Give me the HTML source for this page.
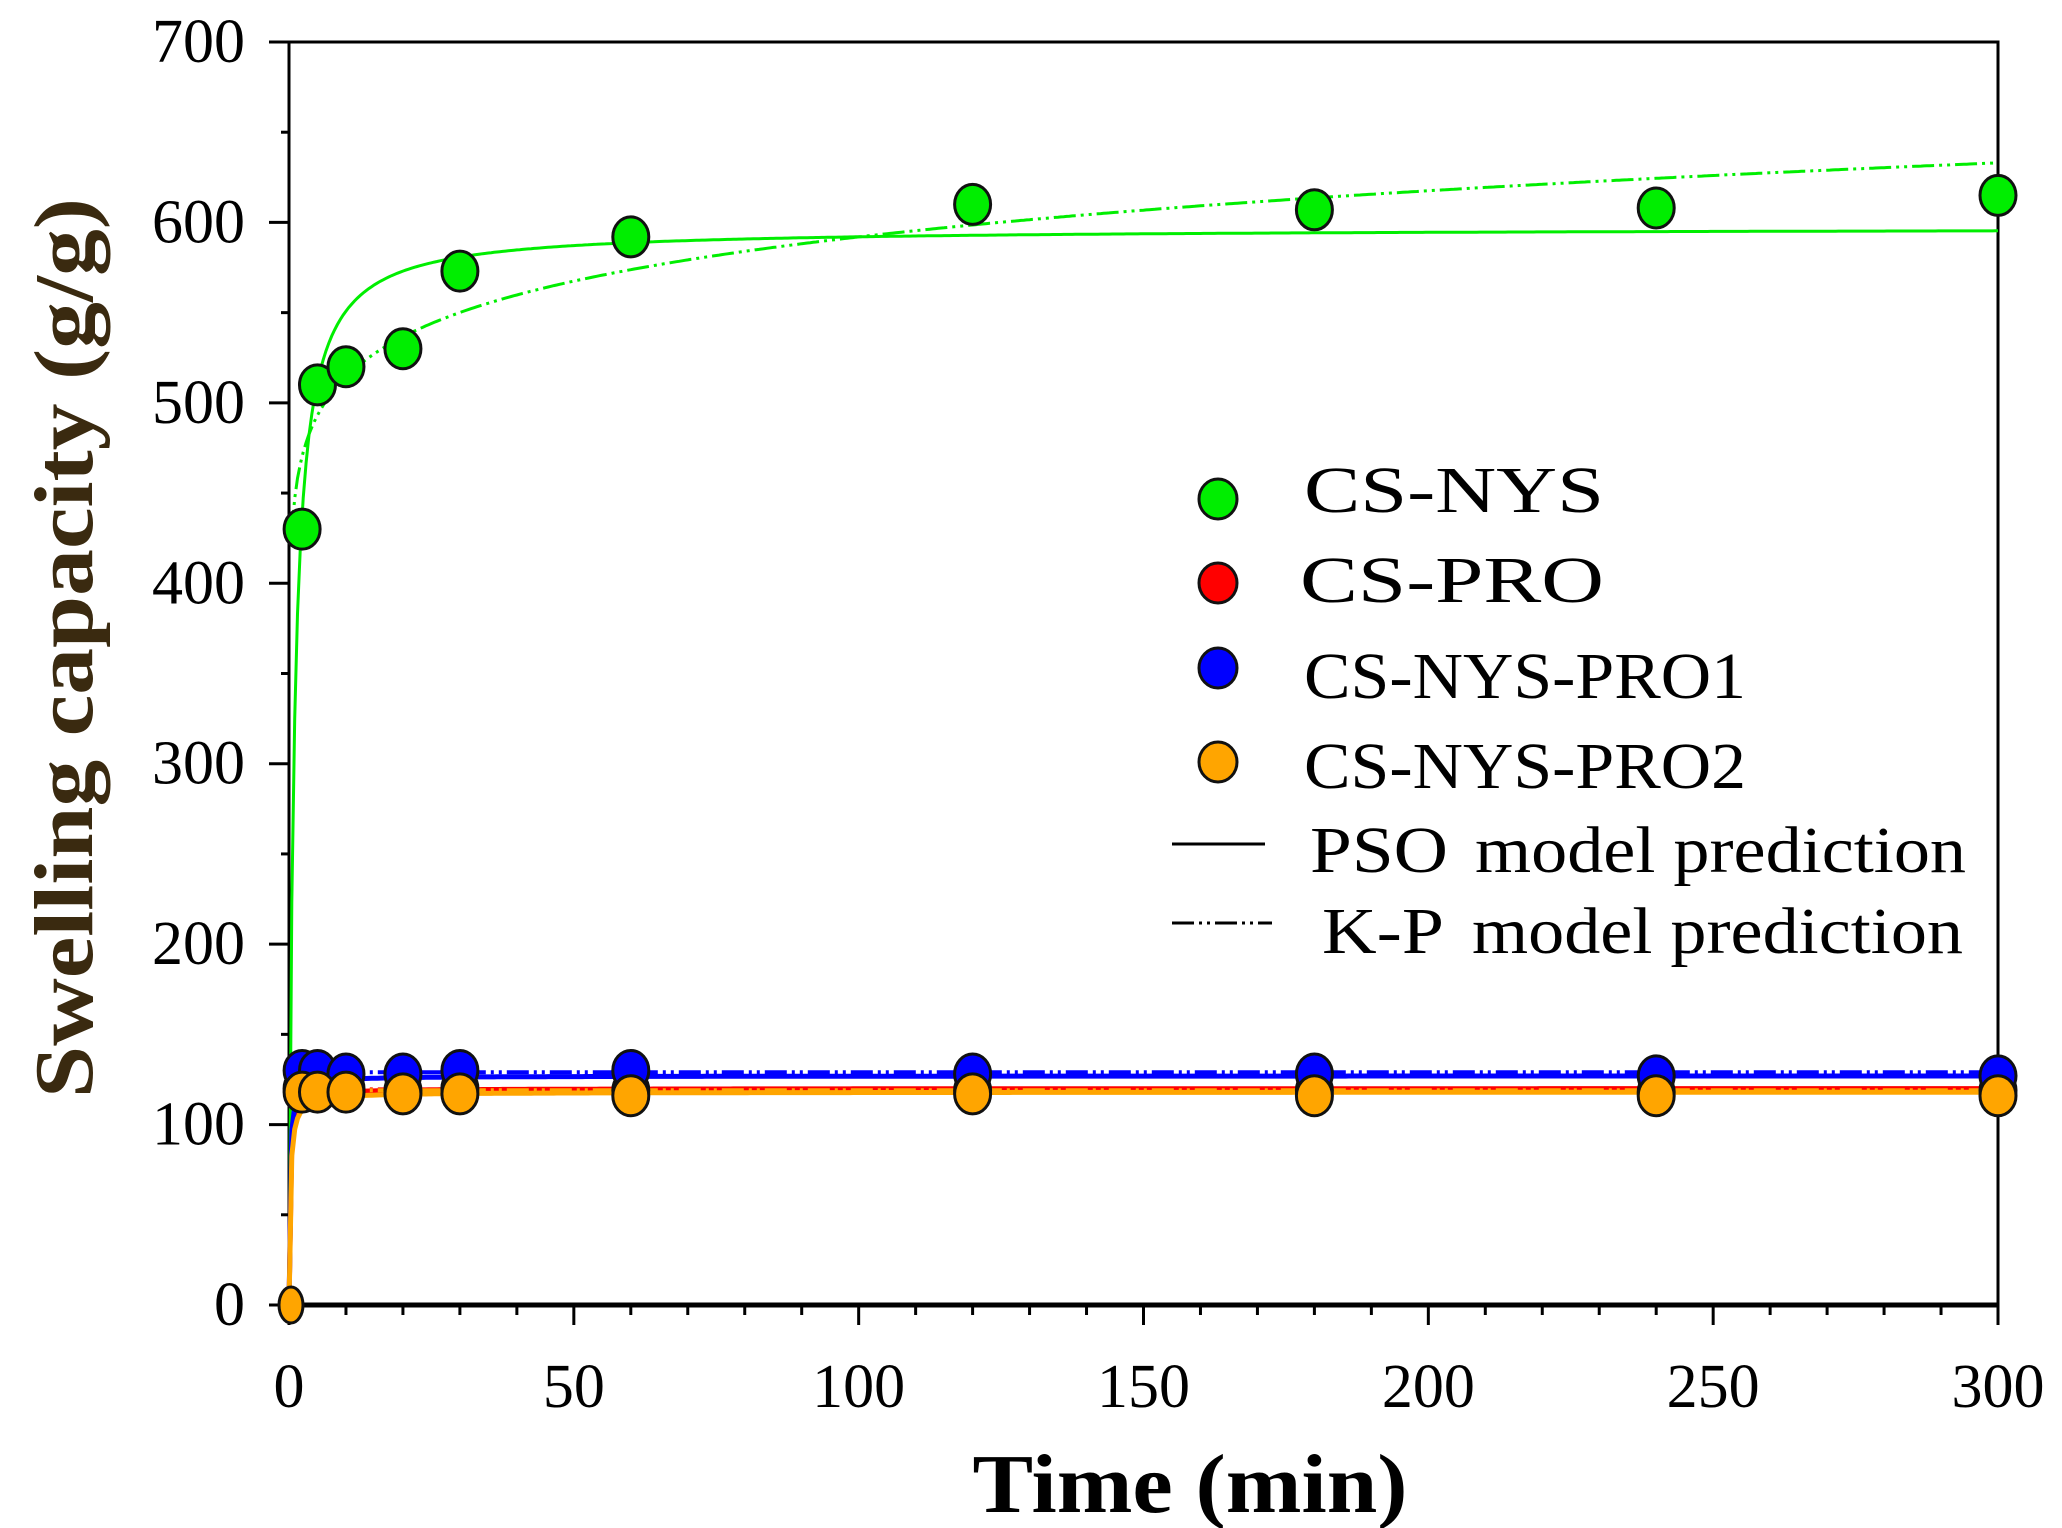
<!DOCTYPE html>
<html><head><meta charset="utf-8"><style>
html,body{margin:0;padding:0;background:#fff;}
svg{display:block;font-family:"Liberation Serif",serif;}
</style></head><body>
<svg id="chart" width="2062" height="1528" viewBox="0 0 2062 1528">
<g id="axes"></g><g id="lines"></g><g id="points"></g>
<g id="legend">
<ellipse cx="1218" cy="499" rx="19" ry="20" fill="#00ee00" stroke="#111" stroke-width="3"/>
<text x="1304" y="512" font-size="66" textLength="300" lengthAdjust="spacingAndGlyphs">CS-NYS</text>
<ellipse cx="1218" cy="583" rx="19" ry="20" fill="#ff0000" stroke="#111" stroke-width="3"/>
<text x="1300" y="602" font-size="66" textLength="304" lengthAdjust="spacingAndGlyphs">CS-PRO</text>
<ellipse cx="1218" cy="668" rx="19" ry="20" fill="#0000ff" stroke="#111" stroke-width="3"/>
<text x="1304" y="698" font-size="66" textLength="442" lengthAdjust="spacingAndGlyphs">CS-NYS-PRO1</text>
<ellipse cx="1218" cy="762" rx="19" ry="20" fill="#ffa500" stroke="#111" stroke-width="3"/>
<text x="1304" y="788" font-size="66" textLength="442" lengthAdjust="spacingAndGlyphs">CS-NYS-PRO2</text>
<line x1="1172" y1="844" x2="1265" y2="844" stroke="#000" stroke-width="3"/>
<text x="1310" y="872" font-size="66" textLength="138" lengthAdjust="spacingAndGlyphs">PSO</text>
<text x="1475" y="872" font-size="66" textLength="491" lengthAdjust="spacingAndGlyphs">model prediction</text>
<line x1="1172" y1="923" x2="1272" y2="923" stroke="#000" stroke-width="3" stroke-dasharray="22,5,3,5,3,5"/>
<text x="1322" y="953" font-size="66" textLength="122" lengthAdjust="spacingAndGlyphs">K-P</text>
<text x="1472" y="953" font-size="66" textLength="491" lengthAdjust="spacingAndGlyphs">model prediction</text>
</g>
<text x="1190" y="1512" font-size="84" font-weight="bold" text-anchor="middle" textLength="435" lengthAdjust="spacingAndGlyphs">Time (min)</text>
<text transform="translate(92,648) rotate(-90)" font-size="84" font-weight="bold" fill="#3a2a10" text-anchor="middle" textLength="900" lengthAdjust="spacingAndGlyphs">Swelling capacity (g/g)</text>
</svg>
<script>
const times = [1, 5, 10, 20, 30, 60, 120, 180, 240, 300];
const nysVals = [430, 510, 520, 530, 573, 592, 610, 607, 608, 615];
const proVals = [120, 120, 120, 119, 120, 119, 119, 119, 118, 119];
const pro1Vals = [130, 130, 128, 128, 130, 130, 128, 128, 127, 127];
const pro2Vals = [118, 118, 118, 117, 117, 116, 117, 116, 116, 116];
const pro2Zero = [0, 0];
const psoQe = [597, 120, 127, 118];
const psoK = [0.002, 0.05, 0.05, 0.04];
const kpK = [447, 119.5, 129, 119];
const kpN = [0.061, 0.0, 0.0, 0.0];
const xTicks = [0, 50, 100, 150, 200, 250, 300];
const yTicks = [0, 100, 200, 300, 400, 500, 600, 700];
const colors = ["#00ee00", "#ff0000", "#0000ff", "#ffa500"];
const NS = "http://www.w3.org/2000/svg";
const X0 = 289, X1 = 1998, Y0 = 1305, Y1 = 42;
function xs(v){ return X0 + (v / 300) * (X1 - X0); }
function ys(v){ return Y0 - (v / 700) * (Y0 - Y1); }
function mk(tag, attrs, parent){ const e = document.createElementNS(NS, tag); for (const k in attrs) e.setAttribute(k, attrs[k]); parent.appendChild(e); return e; }
const axes = document.getElementById('axes');
const frame = mk('rect', {x: X0, y: Y1, width: X1 - X0, height: Y0 - Y1, fill: 'none', stroke: '#000', 'stroke-width': 3}, axes);


mk('line', {x1: X0, y1: Y0, x2: X1, y2: Y0, stroke: '#000', 'stroke-width': 5}, axes);
for (let v = 0; v <= 300; v += 10) {
  const major = v % 50 === 0;
  const t = mk('line', {x1: xs(v), y1: Y0, x2: xs(v), y2: Y0 + (major ? 20 : 10), stroke: '#000', 'stroke-width': 3}, axes);
  
  
}
xTicks.forEach(v => {
  const t = mk('text', {x: xs(v), y: 1407, 'font-size': 62, 'text-anchor': 'middle'}, axes);
  t.textContent = v;
  
  
});
for (let v = 0; v <= 700; v += 50) {
  const major = v % 100 === 0;
  const t = mk('line', {x1: X0, y1: ys(v), x2: X0 - (major ? 20 : 8), y2: ys(v), stroke: '#000', 'stroke-width': 3}, axes);
  
  
}
yTicks.forEach(v => {
  const t = mk('text', {x: 245, y: ys(v) + 20, 'font-size': 62, 'text-anchor': 'end'}, axes);
  t.textContent = v;
  
  
});
const lines = document.getElementById('lines');
const names = ['cs-nys', 'cs-pro', 'cs-nys-pro1', 'cs-nys-pro2'];
for (let s = 0; s < 4; s++) {
  let p1 = '', p2 = '';
  for (let i = 0; i <= 600; i++) {
    const t = i * 0.5;
    const q = psoQe[s] * psoQe[s] * psoK[s] * t / (1 + psoQe[s] * psoK[s] * t);
    p1 += (i ? 'L' : 'M') + xs(t).toFixed(1) + ',' + ys(q).toFixed(1);
    if (t >= 0.5) { const k = kpK[s] * Math.pow(t, kpN[s]); p2 += (p2 ? 'L' : 'M') + xs(t).toFixed(1) + ',' + ys(k).toFixed(1); }
  }
  const a = mk('path', {d: p1, fill: 'none', stroke: colors[s], 'stroke-width': s ? 5 : 3}, lines);
  
  
  const b = mk('path', {d: p2, fill: 'none', stroke: colors[s], 'stroke-width': s ? 4 : 3, 'stroke-dasharray': '22,5,3,5,3,5'}, lines);
  
  
}
const pts = document.getElementById('points');
const series = [nysVals, proVals, pro1Vals, pro2Vals];
[1, 2, 3, 0].forEach(s => {
  times.forEach((t, i) => {
    const c = mk('ellipse', {cx: xs(t === 1 ? 2.3 : t), cy: ys(series[s][i]), rx: 18, ry: 20, fill: colors[s], stroke: '#111', 'stroke-width': 3}, pts);
    
    
  });
});
const z = mk('ellipse', {cx: xs(pro2Zero[0]) + 2, cy: ys(pro2Zero[1]), rx: 12, ry: 18, fill: colors[3], stroke: '#111', 'stroke-width': 3}, pts);


</script>
</body></html>
